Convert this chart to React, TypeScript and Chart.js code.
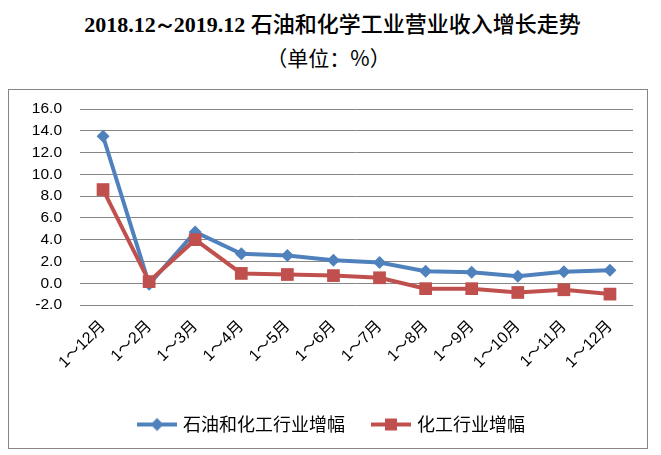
import React, { useEffect, useRef } from "react";
import { Chart, registerables } from "chart.js";

Chart.register(...registerables);

const categories = ["1～12月", "1～2月", "1～3月", "1～4月", "1～5月", "1～6月", "1～7月", "1～8月", "1～9月", "1～10月", "1～11月", "1～12月"];
const petroChem = [13.5, -0.1, 4.7, 2.7, 2.55, 2.1, 1.9, 1.1, 1.0, 0.65, 1.05, 1.2];
const chemical = [8.6, 0.15, 4.0, 0.9, 0.8, 0.7, 0.5, -0.5, -0.5, -0.85, -0.6, -1.0];
const seriesNames = ["石油和化工行业增幅", "化工行业增幅"];
const yTicks = { min: -2, max: 16, step: 2 };

const BLUE = "#4F81BD";
const RED = "#C0504D";
const GRID = "#868686";
const TICK_FONT = '"Liberation Sans", "Noto Sans CJK SC", sans-serif';
const CJK_FONT = '"Noto Sans CJK SC", "Liberation Sans", sans-serif';

function legendMarker(color: string, shape: "diamond" | "square"): HTMLCanvasElement {
  const c = document.createElement("canvas");
  c.width = 40;
  c.height = 18;
  const g = c.getContext("2d")!;
  g.strokeStyle = color;
  g.lineWidth = 4;
  g.beginPath();
  g.moveTo(0, 9);
  g.lineTo(40, 9);
  g.stroke();
  g.fillStyle = color;
  if (shape === "diamond") {
    g.beginPath();
    g.moveTo(20, 2.5);
    g.lineTo(26.5, 9);
    g.lineTo(20, 15.5);
    g.lineTo(13.5, 9);
    g.closePath();
    g.fill();
  } else {
    g.fillRect(14, 3, 12, 12);
  }
  return c;
}

export default function App() {
  const ref = useRef<HTMLCanvasElement | null>(null);

  useEffect(() => {
    if (!ref.current) return;
    const markers = [legendMarker(BLUE, "diamond"), legendMarker(RED, "square")];
    const chart = new Chart(ref.current, {
      type: "line",
      data: {
        labels: categories,
        datasets: [
          {
            label: seriesNames[0],
            data: petroChem,
            borderColor: BLUE,
            backgroundColor: BLUE,
            borderWidth: 4,
            pointStyle: "rectRot",
            pointRadius: 6.5,
            pointBorderWidth: 0,
            tension: 0,
            order: 1,
          },
          {
            label: seriesNames[1],
            data: chemical,
            borderColor: RED,
            backgroundColor: RED,
            borderWidth: 4,
            pointStyle: "rect",
            pointRadius: 9,
            pointBorderWidth: 0,
            tension: 0,
            order: 0,
          },
        ],
      },
      options: {
        animation: false,
        responsive: false,
        layout: { padding: { top: 19, left: 9, right: 0, bottom: 4.5 } },
        plugins: {
          tooltip: { enabled: false },
          title: { display: false },
          legend: {
            position: "bottom",
            labels: {
              usePointStyle: true,
              pointStyleWidth: 34,
              padding: 29,
              color: "#000",
              font: { family: CJK_FONT, size: 18 },
              generateLabels: (ch: any) =>
                ch.data.datasets.map((ds: any, i: number) => ({
                  text: ds.label,
                  fillStyle: ds.borderColor,
                  strokeStyle: ds.borderColor,
                  lineWidth: 0,
                  pointStyle: markers[i],
                  hidden: false,
                  datasetIndex: i,
                  fontColor: "#000",
                })),
            },
          },
        },
        scales: {
          x: {
            offset: true,
            grid: { display: false, drawTicks: false },
            border: { display: false },
            ticks: {
              autoSkip: false,
              maxRotation: 45,
              minRotation: 45,
              padding: 12,
              color: "#000",
              font: { family: TICK_FONT, size: 16 },
            },
            afterFit: (s: any) => {
              s.height = 81.5;
            },
          },
          y: {
            min: yTicks.min,
            max: yTicks.max,
            grid: { color: GRID, lineWidth: 1, drawTicks: true, tickLength: 18, tickColor: "rgba(0,0,0,0)" },
            border: { display: false },
            ticks: {
              autoSkip: false,
              stepSize: yTicks.step,
              padding: 0,
              color: "#000",
              font: { family: TICK_FONT, size: 15.5 },
              callback: (v: any) => Number(v).toFixed(1),
            },
            afterFit: (s: any) => {
              s.width = 62;
            },
          },
          y2: {
            position: "right",
            display: true,
            grid: { display: false, drawTicks: false },
            border: { display: false },
            ticks: { display: false },
            afterFit: (s: any) => {
              s.width = 14;
            },
          },
        },
      },
    });
    return () => chart.destroy();
  }, []);

  return (
    <div style={{ position: "fixed", left: 0, top: 0, width: 661, height: 455, background: "#fff" }}>
      <div
        style={{
          position: "absolute",
          left: 0,
          top: 8,
          width: 665,
          height: 28,
          lineHeight: "28px",
          textAlign: "center",
          fontSize: 22,
          color: "#000",
          whiteSpace: "nowrap",
        }}
      >
        <span style={{ fontFamily: '"Liberation Serif", serif', fontWeight: "bold" }}>
          2018.12<span style={{ margin: "0 -2px" }}>～</span>2019.12{" "}
        </span>
        <span style={{ fontFamily: CJK_FONT, fontWeight: 500 }}>石油和化学工业营业收入增长走势</span>
      </div>
      <div
        style={{
          position: "absolute",
          left: 0,
          top: 43,
          width: 657,
          height: 28,
          lineHeight: "28px",
          textAlign: "center",
          fontSize: 21,
          fontFamily: CJK_FONT,
          color: "#000",
        }}
      >
        （单位：%）
      </div>
      <div
        style={{
          position: "absolute",
          left: 8,
          top: 89,
          width: 640,
          height: 360,
          border: `1px solid ${GRID}`,
          boxSizing: "border-box",
        }}
      >
        <canvas ref={ref} width={638} height={358} style={{ display: "block", width: 638, height: 358 }} />
      </div>
    </div>
  );
}
